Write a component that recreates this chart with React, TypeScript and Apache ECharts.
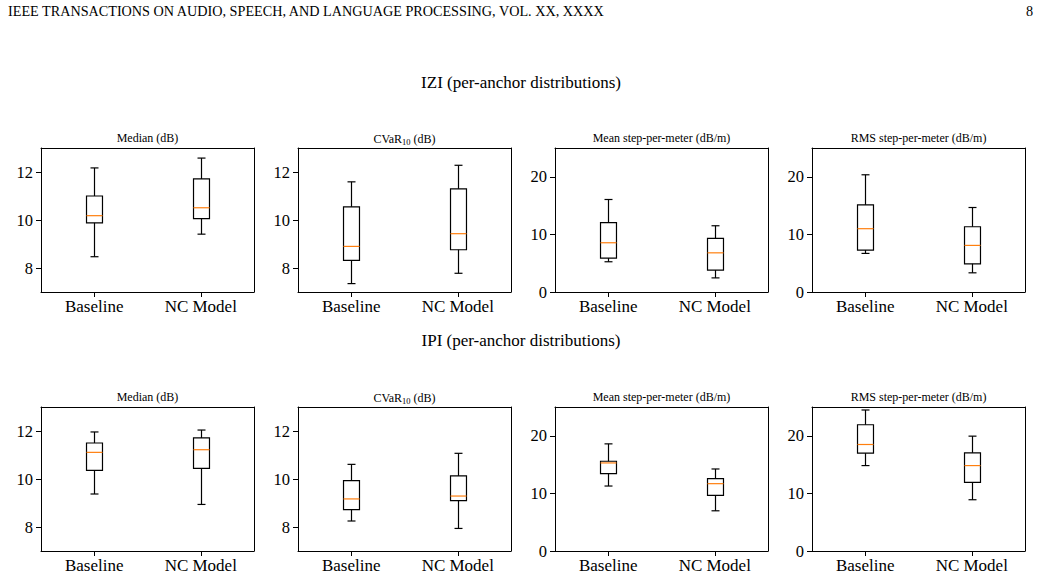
import React, { useEffect, useRef } from "react";
import * as echarts from "echarts";

// Box statistics per panel: [lower whisker, Q1, median, Q3, upper whisker]
const groups = ["Baseline", "NC Model"];

const iziMedian = [
  [8.47, 9.88, 10.18, 11.0, 12.17],
  [9.41, 10.06, 10.51, 11.71, 12.58],
];
const iziCvar = [
  [7.35, 8.32, 8.9, 10.55, 11.59],
  [7.78, 8.76, 9.43, 11.3, 12.28],
];
const iziMeanStep = [
  [5.25, 5.88, 8.55, 12.06, 16.06],
  [2.45, 3.8, 6.8, 9.3, 11.5],
];
const iziRmsStep = [
  [6.7, 7.28, 10.99, 15.13, 20.35],
  [3.33, 4.9, 8.09, 11.33, 14.67],
];

const ipiMedian = [
  [9.375, 10.36, 11.11, 11.5, 11.96],
  [8.94, 10.44, 11.22, 11.71, 12.04],
];
const ipiCvar = [
  [8.25, 8.72, 9.17, 9.93, 10.61],
  [7.94, 9.1, 9.29, 10.13, 11.07],
];
const ipiMeanStep = [
  [11.28, 13.43, 15.29, 15.58, 18.6],
  [6.98, 9.65, 11.69, 12.56, 14.24],
];
const ipiRmsStep = [
  [14.83, 16.98, 18.49, 21.92, 24.48],
  [8.9, 11.92, 14.83, 17.04, 19.94],
];

const rowTitles = ["IZI (per-anchor distributions)", "IPI (per-anchor distributions)"];
const panelTitles = ["Median (dB)", "CVaR{sub|10} (dB)", "Mean step-per-meter (dB/m)", "RMS step-per-meter (dB/m)"];
const dbTicks = [8, 10, 12];
const stepTicks = [0, 10, 20];

const rows = [
  [iziMedian, iziCvar, iziMeanStep, iziRmsStep],
  [ipiMedian, ipiCvar, ipiMeanStep, ipiRmsStep],
];

const SERIF = "Liberation Serif";

export default function App() {
  const ref = useRef<HTMLDivElement>(null);

  useEffect(() => {
    if (!ref.current) return;
    const chart = echarts.init(ref.current, null, { renderer: "svg" });

    const colLefts = [41, 298, 555, 812];
    const rowTops = [148, 407];
    const gw = 213;
    const gh = 144;

    const grids: any[] = [];
    const xAxes: any[] = [];
    const yAxes: any[] = [];
    const series: any[] = [];
    const titles: any[] = [];

    rows.forEach((panels, r) => {
      panels.forEach((stats, c) => {
        const idx = grids.length;
        grids.push({ left: colLefts[c], top: rowTops[r], width: gw, height: gh, show: false });
        const isDb = c < 2;
        const ticks = isDb ? dbTicks : stepTicks;
        xAxes.push({
          type: "category",
          gridIndex: idx,
          data: groups,
          boundaryGap: true,
          axisLine: { show: true, onZero: false, lineStyle: { color: "#000", width: 1 } },
          axisTick: { show: true, alignWithLabel: true, length: 5, lineStyle: { color: "#000" } },
          axisLabel: { color: "#000", fontFamily: SERIF, fontSize: 17, margin: 6 },
          splitLine: { show: false },
        });
        yAxes.push({
          type: "value",
          gridIndex: idx,
          min: isDb ? 7 : 0,
          max: isDb ? 13 : 25,
          axisLine: { show: true, onZero: false, lineStyle: { color: "#000", width: 1 } },
          axisTick: { show: true, length: 5, lineStyle: { color: "#000" }, customValues: ticks },
          axisLabel: {
            color: "#000",
            fontFamily: SERIF,
            fontSize: 16.5,
            margin: 8,
            customValues: ticks,
          },
          splitLine: { show: false },
        });
        // frame: top and right spines
        xAxes.push({
          type: "value",
          gridIndex: idx,
          position: "top",
          axisLine: { show: true, onZero: false, lineStyle: { color: "#000", width: 1 } },
          axisTick: { show: false },
          axisLabel: { show: false },
          splitLine: { show: false },
        });
        yAxes.push({
          type: "value",
          gridIndex: idx,
          position: "right",
          axisLine: { show: true, onZero: false, lineStyle: { color: "#000", width: 1 } },
          axisTick: { show: false },
          axisLabel: { show: false },
          splitLine: { show: false },
        });
        const xi = xAxes.length - 2;
        const yi = yAxes.length - 2;

        series.push({
          type: "custom",
          xAxisIndex: xi,
          yAxisIndex: yi,
          data: stats.map((s, i) => [i, ...s]),
          encode: { x: 0, y: [1, 2, 3, 4, 5] },
          renderItem: (params: any, api: any) => {
            const cat = api.value(0);
            const lo = api.coord([cat, api.value(1)]);
            const q1 = api.coord([cat, api.value(2)]);
            const med = api.coord([cat, api.value(3)]);
            const q3 = api.coord([cat, api.value(4)]);
            const hi = api.coord([cat, api.value(5)]);
            const bandW = api.size([1, 0])[0];
            const bw = bandW * 0.15;
            const cw = bw * 0.5;
            const x = Math.round(lo[0]) + 0.5;
            const ls = { stroke: "#000", lineWidth: 1.2, fill: "none" };
            return {
              type: "group",
              children: [
                { type: "line", shape: { x1: x, y1: hi[1], x2: x, y2: q3[1] }, style: ls },
                { type: "line", shape: { x1: x, y1: q1[1], x2: x, y2: lo[1] }, style: ls },
                { type: "line", shape: { x1: x - cw / 2, y1: hi[1], x2: x + cw / 2, y2: hi[1] }, style: ls },
                { type: "line", shape: { x1: x - cw / 2, y1: lo[1], x2: x + cw / 2, y2: lo[1] }, style: ls },
                {
                  type: "rect",
                  shape: { x: x - bw / 2, y: q3[1], width: bw, height: q1[1] - q3[1] },
                  style: { stroke: "#000", lineWidth: 1.2, fill: "none" },
                },
                {
                  type: "line",
                  shape: { x1: x - bw / 2, y1: med[1], x2: x + bw / 2, y2: med[1] },
                  style: { stroke: "#ff7f0e", lineWidth: 1.2 },
                },
              ],
            };
          },
        });

        titles.push({
          text: panelTitles[c],
          left: colLefts[c] + gw / 2,
          top: rowTops[r] - 16,
          padding: 0,
          textAlign: "center",
          textStyle: {
            color: "#000",
            fontFamily: SERIF,
            fontSize: 12,
            fontWeight: "normal",
            rich: { sub: { fontSize: 8.5, fontFamily: SERIF, color: "#000", padding: [5, 0, 0, 0] } },
          },
        });
      });
    });

    titles.push(
      { text: rowTitles[0], left: 521, top: 74, padding: 0, textAlign: "center", textStyle: { color: "#000", fontFamily: SERIF, fontSize: 17, fontWeight: "normal" } },
      { text: rowTitles[1], left: 521, top: 332, padding: 0, textAlign: "center", textStyle: { color: "#000", fontFamily: SERIF, fontSize: 17, fontWeight: "normal" } },
    );

    chart.setOption({
      animation: false,
      backgroundColor: "#fff",
      title: titles,
      grid: grids,
      xAxis: xAxes,
      yAxis: yAxes,
      series,
      graphic: [
        {
          type: "text",
          left: 8,
          top: 4,
          style: {
            text: "IEEE TRANSACTIONS ON AUDIO, SPEECH, AND LANGUAGE PROCESSING, VOL. XX, XXXX",
            fontFamily: SERIF,
            fontSize: 14.2,
            fill: "#000",
          },
        },
        {
          type: "text",
          right: 8,
          top: 4,
          style: { text: "8", fontFamily: SERIF, fontSize: 14.2, fill: "#000" },
        },
      ],
    });

    return () => chart.dispose();
  }, []);

  return (
    <div
      ref={ref}
      style={{ position: "fixed", left: 0, top: 0, width: 1041, height: 578, background: "#fff" }}
    />
  );
}
